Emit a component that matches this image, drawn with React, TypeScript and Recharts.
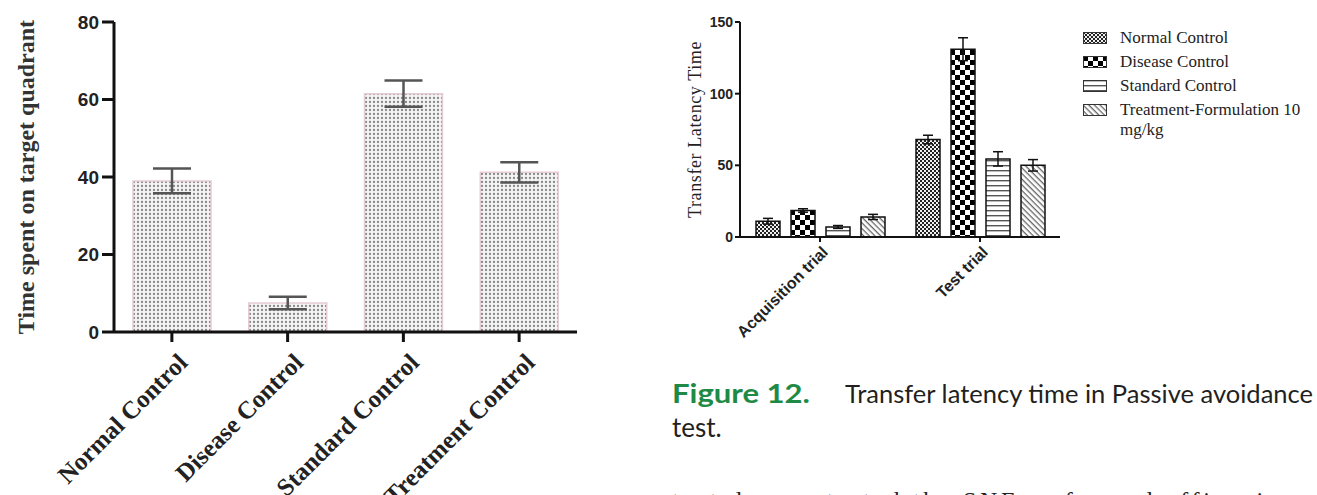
import {
  BarChart,
  Bar,
  XAxis,
  YAxis,
  ErrorBar,
} from "recharts"

// left figure: time spent on target quadrant
const groups = ["Normal Control", "Disease Control", "Standard Control", "Treatment Control"]
const quadrantTime = [39, 7.5, 61.5, 41.2]
const quadrantErr = [3.2, 1.6, 3.4, 2.6]
const quadrantTicks = [0, 20, 40, 60, 80]

// right figure: transfer latency time
const trials = ["Acquisition trial", "Test trial"]
const normalControl = [11, 68]
const normalControlErr = [2, 3]
const diseaseControl = [18.5, 131]
const diseaseControlErr = [1.2, 8]
const standardControl = [7, 54.5]
const standardControlErr = [1, 5]
const treatmentFormulation = [14, 50]
const treatmentFormulationErr = [1.8, 4]
const latencyTicks = [0, 50, 100, 150]

const leftData = groups.map((g, i) => ({
  name: g,
  value: quadrantTime[i],
  err: quadrantErr[i],
}))

const rightData = trials.map((t, i) => ({
  name: t,
  nc: normalControl[i],
  ncErr: normalControlErr[i],
  dc: diseaseControl[i],
  dcErr: diseaseControlErr[i],
  sc: standardControl[i],
  scErr: standardControlErr[i],
  tf: treatmentFormulation[i],
  tfErr: treatmentFormulationErr[i],
}))

const series = [
  { key: "nc", err: "ncErr", label: "Normal Control", fill: "url(#fineCheck)" },
  { key: "dc", err: "dcErr", label: "Disease Control", fill: "url(#bigCheck)" },
  { key: "sc", err: "scErr", label: "Standard Control", fill: "url(#hStripes)" },
  { key: "tf", err: "tfErr", label: "Treatment-Formulation 10\nmg/kg", fill: "url(#diagLines)" },
]

const serif = "'Liberation Serif', 'Times New Roman', serif"
const sans = "'Liberation Sans', Arial, sans-serif"
const captionFont = "Lato, 'Open Sans', sans-serif"

function Patterns() {
  return (
    <svg width={0} height={0} style={{ position: "absolute" }}>
      <defs>
        <pattern id="dots" width={4} height={4} patternUnits="userSpaceOnUse">
          <rect width={4} height={4} fill="#f4f4f4" />
          <circle cx={2} cy={2} r={1.15} fill="#888" />
        </pattern>
        <pattern id="fineCheck" width={4} height={4} patternUnits="userSpaceOnUse">
          <rect width={4} height={4} fill="#f0f0f0" />
          <rect width={2} height={2} fill="#222" />
          <rect x={2} y={2} width={2} height={2} fill="#222" />
        </pattern>
        <pattern id="bigCheck" width={10} height={10} patternUnits="userSpaceOnUse">
          <rect width={10} height={10} fill="#fff" />
          <rect width={5} height={5} fill="#000" />
          <rect x={5} y={5} width={5} height={5} fill="#000" />
        </pattern>
        <pattern id="hStripes" width={5} height={5} patternUnits="userSpaceOnUse">
          <rect width={5} height={5} fill="#fff" />
          <rect width={5} height={1.4} fill="#555" />
        </pattern>
        <pattern
          id="diagLines"
          width={4}
          height={4}
          patternUnits="userSpaceOnUse"
          patternTransform="rotate(45)"
        >
          <rect width={4} height={4} fill="#fff" />
          <rect width={4} height={1.3} fill="#666" />
        </pattern>
      </defs>
    </svg>
  )
}

function LeftTick({ x, y, payload }: any) {
  return (
    <g transform={`translate(${x + 17},${y + 22})`}>
      <text
        textAnchor="end"
        transform="rotate(-45)"
        fontFamily={serif}
        fontWeight="bold"
        fontSize={25}
        fill="#222"
      >
        {payload.value}
      </text>
    </g>
  )
}

function RightTick({ x, y, payload }: any) {
  return (
    <g transform={`translate(${x + 9},${y + 11})`}>
      <text
        textAnchor="end"
        transform="rotate(-45)"
        fontFamily={sans}
        fontWeight="bold"
        fontSize={16}
        fill="#222"
      >
        {payload.value}
      </text>
    </g>
  )
}

function LatencyLegend() {
  return (
    <div style={{ fontFamily: serif, fontSize: 17, color: "#222", lineHeight: "20px" }}>
      {series.map((s) => (
        <div key={s.key} style={{ display: "flex", alignItems: "flex-start", marginBottom: 4 }}>
          <svg width={24} height={12} style={{ marginTop: 4, marginRight: 13, flex: "none" }}>
            <rect x={0.5} y={0.5} width={23} height={11} fill={s.fill} stroke="#333" />
          </svg>
          <span style={{ whiteSpace: "pre" }}>{s.label}</span>
        </div>
      ))}
    </div>
  )
}

export default function App() {
  return (
    <div
      style={{
        position: "absolute",
        left: 0,
        top: 0,
        width: 1317,
        height: 495,
        overflow: "hidden",
        background: "#fff",
      }}
    >
      <Patterns />

      <div style={{ position: "absolute", left: 0, top: 0 }}>
        <BarChart
          width={600}
          height={495}
          data={leftData}
          margin={{ top: 22, right: 23, bottom: 23, left: 14 }}
        >
          <XAxis
            dataKey="name"
            height={140}
            interval={0}
            tick={<LeftTick />}
            tickSize={10}
            tickMargin={0}
            axisLine={{ stroke: "#111", strokeWidth: 3 }}
            tickLine={{ stroke: "#111", strokeWidth: 3 }}
          />
          <YAxis
            width={100}
            domain={[0, 80]}
            ticks={quadrantTicks}
            tickSize={12}
            tickMargin={3}
            axisLine={{ stroke: "#111", strokeWidth: 3 }}
            tickLine={{ stroke: "#111", strokeWidth: 3 }}
            tick={{ fontFamily: sans, fontWeight: "bold", fontSize: 19, fill: "#222" }}
            label={{
              value: "Time spent on target quadrant",
              angle: -90,
              position: "insideLeft",
              offset: 11,
              style: {
                textAnchor: "middle",
                fontFamily: serif,
                fontWeight: "bold",
                fontSize: 24,
                fill: "#333",
              },
            }}
          />
          <Bar
            dataKey="value"
            barSize={78}
            fill="url(#dots)"
            stroke="#e6cdd3"
            strokeWidth={1.5}
            isAnimationActive={false}
          >
            <ErrorBar
              dataKey="err"
              width={19}
              stroke="#555"
              strokeWidth={2.5}
              direction="y"
              isAnimationActive={false}
            />
          </Bar>
        </BarChart>
      </div>

      <div style={{ position: "absolute", left: 640, top: 0 }}>
        <BarChart
          width={440}
          height={380}
          data={rightData}
          barSize={24}
          barGap={11}
          margin={{ top: 22, right: 20, bottom: 23, left: 40 }}
        >
          <XAxis
            dataKey="name"
            height={120}
            interval={0}
            tick={<RightTick />}
            tickSize={5}
            tickMargin={0}
            axisLine={{ stroke: "#111", strokeWidth: 2 }}
            tickLine={{ stroke: "#111", strokeWidth: 2 }}
          />
          <YAxis
            width={60}
            domain={[0, 150]}
            ticks={latencyTicks}
            tickSize={5}
            tickMargin={2}
            axisLine={{ stroke: "#111", strokeWidth: 2 }}
            tickLine={{ stroke: "#111", strokeWidth: 2 }}
            tick={{ fontFamily: sans, fontWeight: "bold", fontSize: 14, fill: "#222" }}
            label={{
              value: "Transfer Latency Time",
              angle: -90,
              position: "insideLeft",
              offset: 15,
              style: {
                textAnchor: "middle",
                fontFamily: serif,
                fontSize: 18,
                letterSpacing: 0.6,
                fill: "#222",
              },
            }}
          />
          {series.map((s) => (
            <Bar
              key={s.key}
              dataKey={s.key}
              name={s.label}
              fill={s.fill}
              stroke="#111"
              strokeWidth={1.5}
              isAnimationActive={false}
            >
              <ErrorBar
                dataKey={s.err}
                width={5}
                stroke="#111"
                strokeWidth={1.5}
                direction="y"
                isAnimationActive={false}
              />
            </Bar>
          ))}
        </BarChart>
      </div>

      <div style={{ position: "absolute", left: 1083, top: 28, width: 234 }}>
        <LatencyLegend />
      </div>

      <svg
        width={1317}
        height={495}
        style={{ position: "absolute", left: 0, top: 0, pointerEvents: "none" }}
      >
        <text
          x={672}
          y={403}
          fontFamily={captionFont}
          fontWeight="bold"
          fontSize={27}
          fill="#1f8a45"
          textLength={138}
          lengthAdjust="spacingAndGlyphs"
        >
          Figure 12.
        </text>
        <text
          x={845}
          y={403}
          fontFamily={captionFont}
          fontSize={25.5}
          fill="#231f20"
          textLength={468}
          lengthAdjust="spacingAndGlyphs"
        >
          Transfer latency time in Passive avoidance
        </text>
        <text x={672} y={437} fontFamily={captionFont} fontSize={26} fill="#231f20">
          test.
        </text>
        <text
          x={672}
          y={508}
          fontFamily={serif}
          fontSize={24}
          fill="#222"
          textLength={670}
          lengthAdjust="spacing"
        >
          test demonstrated the SNF as formed efficacious at
        </text>
      </svg>
    </div>
  )
}
